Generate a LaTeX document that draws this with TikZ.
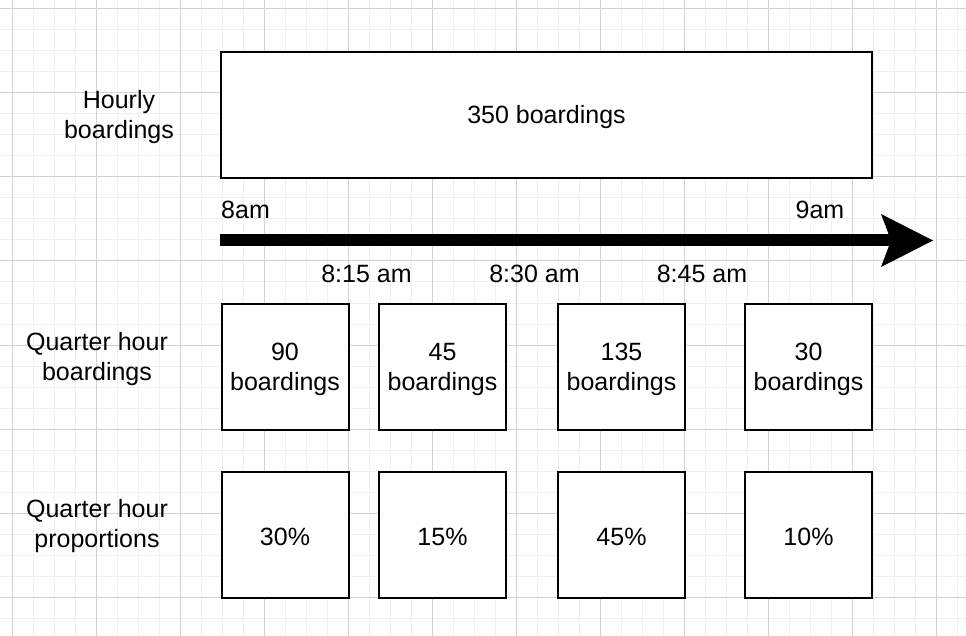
\documentclass[tikz,border=0pt]{standalone}
\usepackage{fontspec}
\setmainfont{Liberation Sans}
\definecolor{gridminor}{HTML}{F0F0F0}
\definecolor{gridmajor}{HTML}{D2D2D2}
\begin{document}
\begin{tikzpicture}[x=1pt,y=-1pt,
  lbl/.style={font=\fontsize{25}{30}\selectfont, inner sep=0pt, align=center, text=black},
  qbox/.style={draw=black, line width=2pt, fill=white, minimum width=127pt, minimum height=126pt, inner sep=0pt},
  minorline/.style={draw=gridminor, line width=1pt},
  majorline/.style={draw=gridmajor, line width=1pt}]
\useasboundingbox (0,0) rectangle (966,636);
\fill[white] (0,0) rectangle (966,636);
% grid
\foreach \k in {0,...,46} {
  \pgfmathsetmacro{\gx}{12+21*(\k-1)}
  \draw[minorline] (\gx,0) -- (\gx,636);
}
\foreach \k in {0,...,31} {
  \pgfmathsetmacro{\gy}{9+21*(\k-1)}
  \draw[minorline] (0,\gy) -- (966,\gy);
}
\foreach \k in {0,...,11} {
  \pgfmathsetmacro{\gx}{12+84*\k}
  \draw[majorline] (\gx,0) -- (\gx,636);
}
\foreach \k in {0,...,7} {
  \pgfmathsetmacro{\gy}{9+84*\k}
  \draw[majorline] (0,\gy) -- (966,\gy);
}
% hourly
\node[qbox, minimum width=651pt] (hour) at (546.5,115) {};
\node[lbl] (hourtxt) at ([yshift=-2.5pt]hour.center) {350 boardings};
\node[lbl] (hourlbl) at (119,117) {Hourly\\boardings};
% timeline
\coordinate (tstart) at (220,240.5);
\coordinate (tnotch) at (891,240.5);
\coordinate (ttip) at (933,240.5);
\coordinate (ttop) at (881,214);
\coordinate (tbot) at (881,267);
\draw[line width=12pt, black] (tstart) -- (tnotch);
\fill[black] (ttip) -- (ttop) -- (tnotch) -- (tbot) -- cycle;
\node[lbl, anchor=base west] (t8) at (221,219) {8am};
\node[lbl, anchor=base east] (t9) at (844.5,219) {9am};
\node[lbl, anchor=base] (t815) at (366.5,283) {8:15 am};
\node[lbl, anchor=base] (t830) at (534.5,283) {8:30 am};
\node[lbl, anchor=base] (t845) at (702,283) {8:45 am};
% quarter hour boardings
\node[lbl] (qblbl) at (97,359) {Quarter hour\\boardings};
\node[qbox] (b1) at (285,367) {};
\node[qbox] (b2) at (442.5,367) {};
\node[qbox] (b3) at (621.5,367) {};
\node[qbox] (b4) at (808.5,367) {};
\node[lbl] (b1t) at ([yshift=-2.5pt]b1.center) {90\\boardings};
\node[lbl] (b2t) at ([yshift=-2.5pt]b2.center) {45\\boardings};
\node[lbl] (b3t) at ([yshift=-2.5pt]b3.center) {135\\boardings};
\node[lbl] (b4t) at ([yshift=-2.5pt]b4.center) {30\\boardings};
% proportions
\node[lbl] (qplbl) at (97,526) {Quarter hour\\proportions};
\node[qbox] (p1) at (285,535) {};
\node[qbox] (p2) at (442.5,535) {};
\node[qbox] (p3) at (621.5,535) {};
\node[qbox] (p4) at (808.5,535) {};
\node[lbl] (p1t) at ([yshift=-2pt]p1.center) {30\%};
\node[lbl] (p2t) at ([yshift=-2pt]p2.center) {15\%};
\node[lbl] (p3t) at ([yshift=-2pt]p3.center) {45\%};
\node[lbl] (p4t) at ([yshift=-2pt]p4.center) {10\%};
\end{tikzpicture}
\end{document}
